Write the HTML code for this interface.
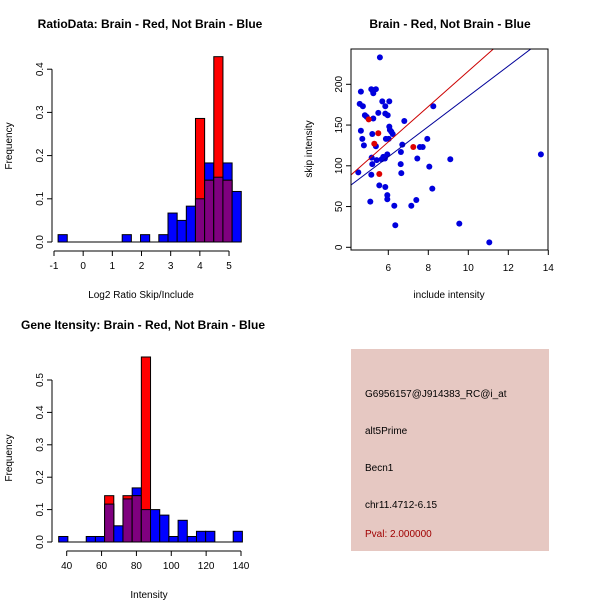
<!DOCTYPE html>
<html><head><meta charset="utf-8"><style>
body{margin:0;background:#fff}
svg{display:block;font-family:"Liberation Sans",sans-serif}
</style></head><body>
<svg id="c" width="600" height="600" viewBox="0 0 600 600">
<rect x="0" y="0" width="600" height="600" fill="#fff"/>
<text x="150" y="28" text-anchor="middle" font-size="12" font-weight="bold">RatioData: Brain - Red, Not Brain - Blue</text>
<text x="450" y="28" text-anchor="middle" font-size="12" font-weight="bold">Brain - Red, Not Brain - Blue</text>
<text x="143" y="329" text-anchor="middle" font-size="12" font-weight="bold">Gene Itensity: Brain - Red, Not Brain - Blue</text>
<text x="141" y="298" text-anchor="middle" font-size="10">Log2 Ratio Skip/Include</text>
<text x="12" y="146" text-anchor="middle" font-size="10" transform="rotate(-90 12 146)">Frequency</text>
<text x="449" y="298" text-anchor="middle" font-size="10">include intensity</text>
<text x="312" y="149" text-anchor="middle" font-size="10" transform="rotate(-90 312 149)">skip intensity</text>
<text x="149" y="598" text-anchor="middle" font-size="10">Intensity</text>
<text x="12" y="458" text-anchor="middle" font-size="10" transform="rotate(-90 12 458)">Frequency</text>
<g>
<rect x="351" y="349" width="198" height="202" fill="#e6c8c2"/>
<text x="365" y="397" font-size="10">G6956157@J914383_RC@i_at</text>
<text x="365" y="434" font-size="10">alt5Prime</text>
<text x="365" y="471" font-size="10">Becn1</text>
<text x="365" y="508" font-size="10">chr11.4712-6.15</text>
<text x="365" y="537" font-size="10" fill="#a00000">Pval: 2.000000</text>
</g>
<g id="g1"></g>
<g id="g2"></g>
<g id="g3"></g>
</svg>
<script>
const ratioStart=-0.86, ratioWidth=0.314;
const ratioBlue=[0.017,0,0,0,0,0,0,0.017,0,0.017,0,0.017,0.067,0.05,0.083,0.1,0.183,0.15,0.183,0.117];
const ratioRed=[0,0,0,0,0,0,0,0,0,0,0,0,0,0,0,0.286,0.143,0.429,0.143,0];
const ratioXTicks=[-1,0,1,2,3,4,5];
const ratioYTicks=[0,0.1,0.2,0.3,0.4];

const intStart=35.4, intWidth=5.27;
const intBlue=[0.017,0,0,0.017,0.017,0.117,0.05,0.133,0.167,0.1,0.1,0.083,0.017,0.067,0.017,0.033,0.033,0,0,0.033];
const intRed=[0,0,0,0,0,0.143,0,0.143,0.143,0.571,0,0,0,0,0,0,0,0,0,0];
const intXTicks=[40,60,80,100,120,140];
const intYTicks=[0,0.1,0.2,0.3,0.4,0.5];

const blueX=[5.58,4.63,4.57,4.73,5.15,5.38,5.25,5.22,4.83,4.92,5.70,6.05,5.85,5.50,5.85,5.97,6.80,5.25,6.05,6.08,6.15,6.22,4.63,5.20,4.70,4.78,5.88,6.02,7.95,5.38,6.70,6.63,5.95,5.75,5.83,5.67,5.42,5.17,5.20,6.62,7.45,9.10,13.63,8.25,4.50,5.15,6.65,8.05,5.55,5.85,8.20,5.95,5.95,5.10,6.30,7.15,7.40,6.35,9.55,11.05,7.58,7.72];
const blueY=[233,191,176,173,194,194,189,192,162,160,179,179,173,165,164,162,155,158,148,144,142,139,143,139,133,125,133,133,133,124,126,117,114,111,109,108,107,110,102,102,109,108,114,173,92,89,91,99,76,74,72,64,59,56,51,51,58,27,29,6,123,123];
const redX=[5.02,5.50,5.30,7.25,5.55];
const redY=[157,140,127,123,90];
const redFit=[21.7,-0.9];
const blueFit=[18.57,-0.4];
const scXTicks=[6,8,10,12,14];
const scYTicks=[0,50,100,150,200];

const NS="http://www.w3.org/2000/svg";
function mk(parent,tag,attrs){const e=document.createElementNS(NS,tag);for(const k in attrs)e.setAttribute(k,attrs[k]);parent.appendChild(e);return e;}

function hist(g,start,width,blue,red,xTicks,yTicks,X,Y,xAxisY,yAxisX,prefix){
  for(let i=0;i<blue.length;i++){
    const x0=X(start+i*width),x1=X(start+(i+1)*width);
    const b=blue[i],r=red[i];
    if(b>0){const e=mk(g,'rect',{x:x0,y:Y(b),width:x1-x0,height:Y(0)-Y(b),fill:'#0000ff',stroke:'#000','stroke-width':1});
      
      }
    if(r>0){const e=mk(g,'rect',{x:x0,y:Y(r),width:x1-x0,height:Y(0)-Y(r),fill:'#ff0000',stroke:'#000','stroke-width':1});
      
      }
    const m=Math.min(b,r);
    if(m>0){const e=mk(g,'rect',{x:x0,y:Y(m),width:x1-x0,height:Y(0)-Y(m),fill:'#7f007f',stroke:'#000','stroke-width':1});
      
      }
  }
  mk(g,'line',{x1:X(xTicks[0]),x2:X(xTicks[xTicks.length-1]),y1:xAxisY,y2:xAxisY,stroke:'#000'});
  xTicks.forEach(t=>{mk(g,'line',{x1:X(t),x2:X(t),y1:xAxisY,y2:xAxisY+5,stroke:'#000'});
    const tx=mk(g,'text',{x:X(t),y:xAxisY+18,'text-anchor':'middle','font-size':10});tx.textContent=t;
    
    });
  mk(g,'line',{x1:yAxisX,x2:yAxisX,y1:Y(yTicks[0]),y2:Y(yTicks[yTicks.length-1]),stroke:'#000'});
  yTicks.forEach(t=>{mk(g,'line',{x1:yAxisX-5,x2:yAxisX,y1:Y(t),y2:Y(t),stroke:'#000'});
    const tx=mk(g,'text',{x:yAxisX-9,y:Y(t),'text-anchor':'middle','font-size':10,transform:`rotate(-90 ${yAxisX-9} ${Y(t)})`});tx.textContent=t.toFixed(1);
    
    });
  mk(g,'line',{x1:X(start),x2:X(start+blue.length*width),y1:Y(0),y2:Y(0),stroke:'#000'});
}
hist(document.getElementById('g1'),ratioStart,ratioWidth,ratioBlue,ratioRed,ratioXTicks,ratioYTicks,
  v=>54+(v+1)*29.17, v=>242-v*432, 251, 52,'ratio');
hist(document.getElementById('g3'),intStart,intWidth,intBlue,intRed,intXTicks,intYTicks,
  v=>66.7+(v-40)*1.743, v=>542-v*324, 551, 52,'intensity');

(function(){
  const g=document.getElementById('g2');
  const X=v=>388.3+(v-6)*20, Y=v=>247.3-v*0.815;
  const L=351,R=548,T=49,B=250;
  mk(g,'clipPath',{id:'clip'}).appendChild(Object.assign(document.createElementNS(NS,'rect'),{}));
  const cp=g.querySelector('#clip rect');cp.setAttribute('x',L);cp.setAttribute('y',T);cp.setAttribute('width',R-L);cp.setAttribute('height',B-T);
  for(let i=0;i<blueX.length;i++){const c=mk(g,'circle',{cx:X(blueX[i]),cy:Y(blueY[i]),r:3,fill:'#0000dd'});
    
    }
  for(let i=0;i<redX.length;i++){const c=mk(g,'circle',{cx:X(redX[i]),cy:Y(redY[i]),r:3,fill:'#dd0000'});
    
    }
  const xa=4,xb=15;
  const rl=mk(g,'line',{x1:X(xa),y1:Y(redFit[0]*xa+redFit[1]),x2:X(xb),y2:Y(redFit[0]*xb+redFit[1]),stroke:'#cc0000','clip-path':'url(#clip)'});
  
  
  const bl=mk(g,'line',{x1:X(xa),y1:Y(blueFit[0]*xa+blueFit[1]),x2:X(xb),y2:Y(blueFit[0]*xb+blueFit[1]),stroke:'#000099','clip-path':'url(#clip)'});
  
  
  mk(g,'rect',{x:L,y:T,width:R-L,height:B-T,fill:'none',stroke:'#000'});
  scXTicks.forEach(t=>{mk(g,'line',{x1:X(t),x2:X(t),y1:B,y2:B+5,stroke:'#000'});
    const tx=mk(g,'text',{x:X(t),y:B+21,'text-anchor':'middle','font-size':10});tx.textContent=t;
    
    });
  scYTicks.forEach(t=>{mk(g,'line',{x1:L-5,x2:L,y1:Y(t),y2:Y(t),stroke:'#000'});
    const tx=mk(g,'text',{x:L-9,y:Y(t),'text-anchor':'middle','font-size':10,transform:`rotate(-90 ${L-9} ${Y(t)})`});tx.textContent=t;
    
    });
})();
</script>
</body></html>
